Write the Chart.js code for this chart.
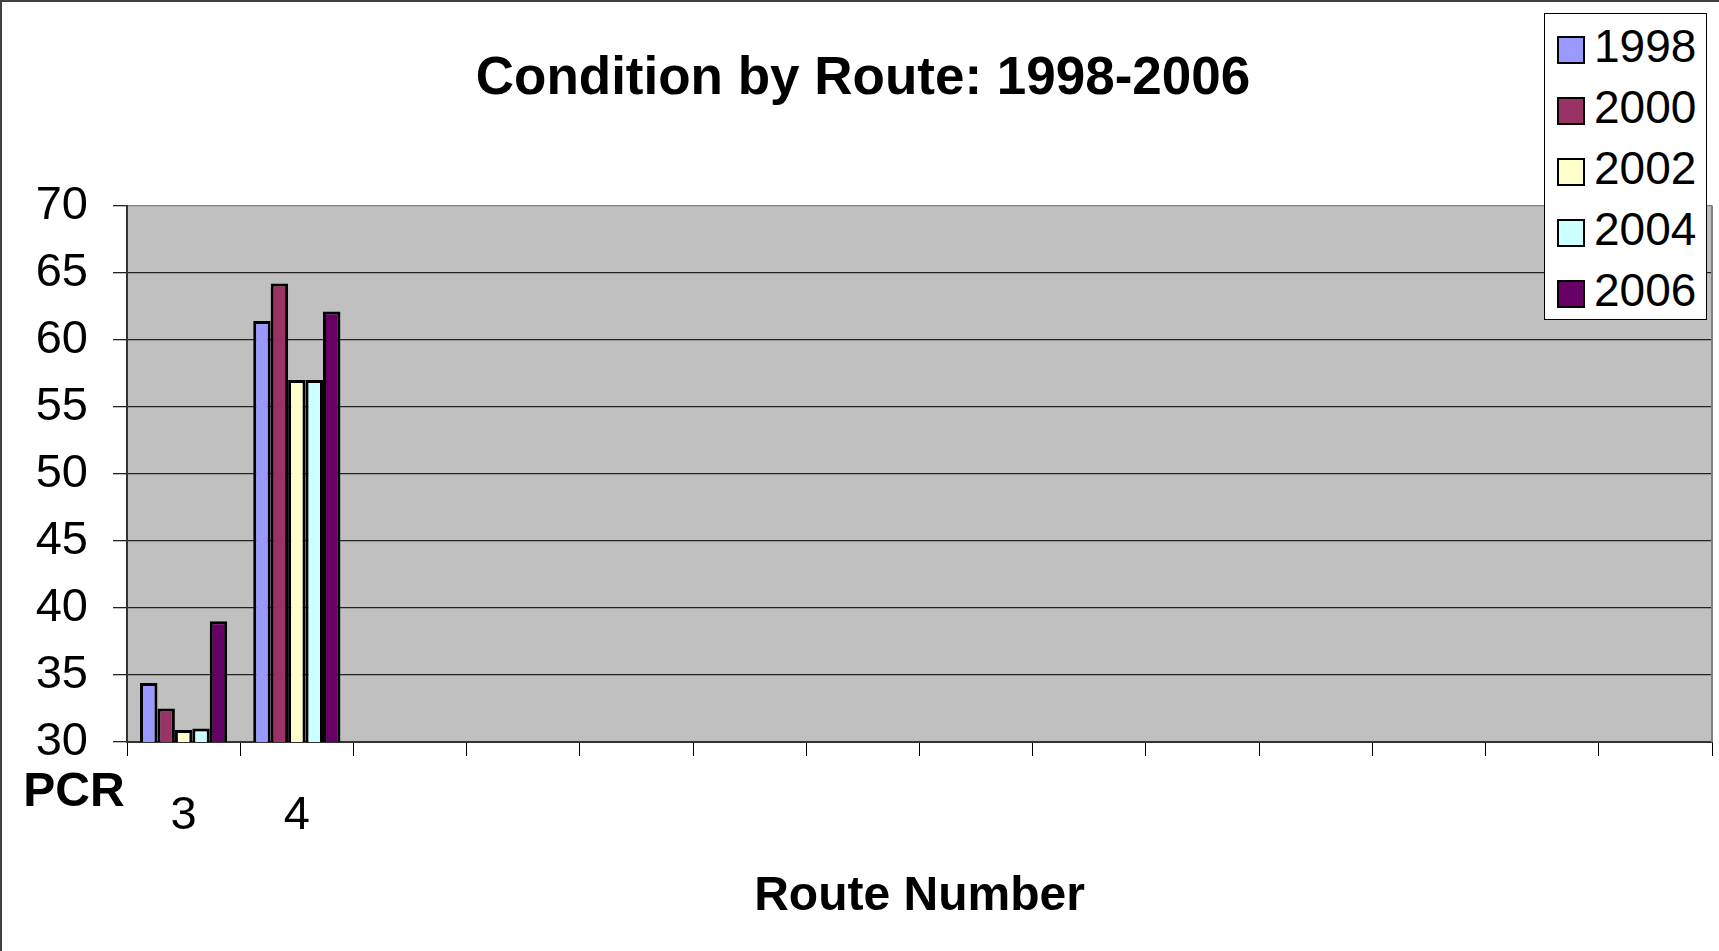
<!DOCTYPE html>
<html>
<head>
<meta charset="utf-8">
<title>Condition by Route: 1998-2006</title>
<script src="https://cdn.jsdelivr.net/npm/chart.js@4.4.1/dist/chart.umd.min.js"></script>
<style>
  html, body { margin: 0; padding: 0; background: #fff; }
  #wrap { position: relative; width: 1719px; height: 951px; font-family: "Liberation Sans", Arial, sans-serif; }
  #frame { position: absolute; left: 0; top: 0; right: 0; bottom: 0; border-top: 2px solid #404040; border-left: 2px solid #404040; pointer-events: none; }
  #legend { position: absolute; left: 1544px; top: 13px; width: 161px; height: 303px; padding-top: 2px; background: #fff; border: 1px solid #000; }
  .item { height: 61px; line-height: 61px; font-size: 46px; color: #000; white-space: nowrap; }
  .swatch { display: inline-block; width: 24px; height: 24px; border: 2px solid #000; margin: 0 9px 0 12px; vertical-align: -2px; }
</style>
</head>
<body>
<div id="wrap">
  <canvas id="chart"></canvas>
  <div id="legend"></div>
  <div id="frame"></div>
</div>
<script>
// Route numbers on the x axis (only two routes have data, the rest are empty slots)
const routes = ['3', '4', '', '', '', '', '', '', '', '', '', '', '', ''];

// Survey years and their colours
const years = ['1998', '2000', '2002', '2004', '2006'];
const yearColors = ['#9999FF', '#993366', '#FFFFCC', '#CCFFFF', '#660066'];

// PCR values per year, one per route
const pcr1998 = [34.4, 61.4];
const pcr2000 = [32.5, 64.2];
const pcr2002 = [30.9, 57.0];
const pcr2004 = [31.0, 57.0];
const pcr2006 = [39.0, 62.1];

// Y axis range
const yMin = 30;
const yMax = 70;
const yStep = 5;

const seriesValues = [pcr1998, pcr2000, pcr2002, pcr2004, pcr2006];

Chart.defaults.font.family = "'Liberation Sans', Arial, sans-serif";
Chart.defaults.color = '#000';

// Grey plot background, grey right edge and the "PCR" label
const plotFrame = {
  id: 'plotFrame',
  beforeDraw(chart) {
    const { ctx, chartArea: a } = chart;
    ctx.save();
    ctx.fillStyle = '#C0C0C0';
    ctx.fillRect(a.left, a.top, a.right - a.left, a.bottom - a.top);
    ctx.restore();
  },
  beforeDatasetsDraw(chart) {
    const { ctx, chartArea: a } = chart;
    ctx.save();
    ctx.strokeStyle = '#808080';
    ctx.lineWidth = 2;
    ctx.beginPath();
    ctx.moveTo(a.right, a.top);
    ctx.lineTo(a.right, a.bottom);
    ctx.stroke();
    ctx.restore();
  },
  afterDraw(chart) {
    const { ctx, chartArea: a } = chart;
    ctx.save();
    ctx.font = "bold 48px 'Liberation Sans', Arial, sans-serif";
    ctx.fillStyle = '#000';
    ctx.textAlign = 'center';
    ctx.textBaseline = 'middle';
    ctx.fillText('PCR', a.left - 53, a.bottom + 51);
    ctx.restore();
  }
};

const chart = new Chart(document.getElementById('chart'), {
  type: 'bar',
  data: {
    labels: routes,
    datasets: years.map((year, i) => ({
      label: year,
      data: seriesValues[i],
      backgroundColor: yearColors[i],
      borderColor: '#000',
      borderWidth: 3,
      categoryPercentage: 0.77,
      barPercentage: 1.0
    }))
  },
  options: {
    responsive: true,
    maintainAspectRatio: false,
    animation: false,
    layout: {
      padding: { left: 14, right: 7, top: 0, bottom: 0 }
    },
    plugins: {
      legend: { display: false },
      tooltip: { enabled: false },
      title: {
        display: true,
        text: 'Condition by Route: 1998-2006',
        color: '#000',
        font: { size: 53, weight: 'bold' },
        padding: { top: 48, bottom: 94 }
      }
    },
    scales: {
      x: {
        grid: {
          offset: true,
          drawOnChartArea: false,
          drawTicks: true,
          tickLength: 14,
          tickColor: '#000'
        },
        border: { display: true, color: '#333', width: 2 },
        ticks: {
          autoSkip: false,
          maxRotation: 0,
          padding: 32,
          color: '#000',
          font: { size: 47 }
        },
        title: {
          display: true,
          text: 'Route Number',
          color: '#000',
          font: { size: 48, weight: 'bold' },
          padding: { top: 0, bottom: 25 }
        },
        afterFit(scale) { scale.height = 209; }
      },
      y: {
        min: yMin,
        max: yMax,
        grid: {
          color: ctx => (ctx.tick && ctx.tick.value === yMax ? '#808080' : '#222'),
          tickColor: '#222',
          tickLength: 14,
          lineWidth: 1.3
        },
        border: { display: true, color: '#333', width: 2 },
        ticks: {
          stepSize: yStep,
          padding: 25,
          color: '#000',
          font: { size: 47 }
        },
        afterFit(scale) { scale.width = 113; }
      }
    }
  },
  plugins: [plotFrame]
});

// Legend box built from the chart's own datasets
const legendBox = document.getElementById('legend');
chart.data.datasets.forEach(ds => {
  const row = document.createElement('div');
  row.className = 'item';
  row.innerHTML = `<span class="swatch" style="background:${ds.backgroundColor}"></span>${ds.label}`;
  legendBox.appendChild(row);
});
</script>
</body>
</html>
